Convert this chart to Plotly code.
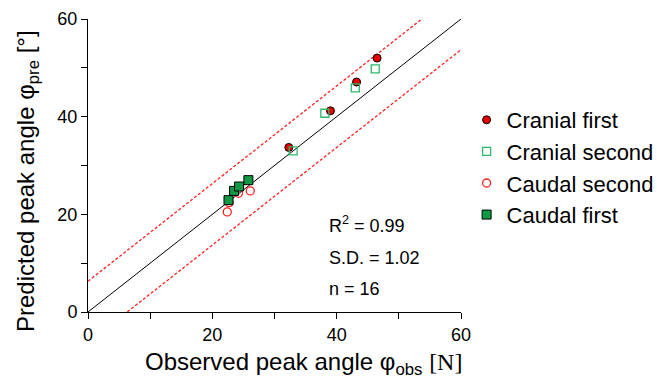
import plotly.graph_objects as go

# Data
cranial_first_x = [32.3, 39.0, 43.2, 46.5]
cranial_first_y = [33.7, 41.2, 47.1, 52.0]
cranial_second_x = [33.0, 38.1, 43.0, 46.2]
cranial_second_y = [33.0, 40.7, 45.9, 49.8]
caudal_second_x = [22.4, 22.7, 24.2, 26.1]
caudal_second_y = [20.5, 22.4, 24.3, 24.8]
caudal_first_x = [22.6, 23.5, 24.3, 25.8]
caudal_first_y = [22.9, 24.8, 25.7, 27.0]

line_x = [0, 60]
band_offset = 6.3
stats_labels = ["R<sup>2</sup> = 0.99", "S.D. = 1.02", "n = 16"]
stats_y = [18.0, 11.1, 4.7]
stats_x = 38.5

FONT = "Liberation Sans, Arial, sans-serif"
SERIF = "Liberation Serif, Times New Roman, serif"

fig = go.Figure()

# identity line and dashed band
fig.add_trace(go.Scatter(x=line_x, y=line_x, mode="lines",
                         line=dict(color="black", width=1), showlegend=False, hoverinfo="skip"))
fig.add_trace(go.Scatter(x=line_x, y=[v + band_offset for v in line_x], mode="lines",
                         line=dict(color="#ff2020", width=1.3, dash="3px,2px"), showlegend=False, hoverinfo="skip"))
fig.add_trace(go.Scatter(x=line_x, y=[v - band_offset for v in line_x], mode="lines",
                         line=dict(color="#ff2020", width=1.3, dash="3px,2px"), showlegend=False, hoverinfo="skip"))

fig.add_trace(go.Scatter(x=cranial_first_x, y=cranial_first_y, mode="markers", name="Cranial first",
                         marker=dict(symbol="circle", size=8, color="#e80000",
                                     line=dict(color="black", width=1))))
fig.add_trace(go.Scatter(x=cranial_second_x, y=cranial_second_y, mode="markers", name="Cranial second",
                         marker=dict(symbol="square-open", size=8, color="#2db86a",
                                     line=dict(width=1.3))))
fig.add_trace(go.Scatter(x=caudal_second_x, y=caudal_second_y, mode="markers", name="Caudal second",
                         marker=dict(symbol="circle-open", size=8, color="#ff2020",
                                     line=dict(width=1.3))))
fig.add_trace(go.Scatter(x=caudal_first_x, y=caudal_first_y, mode="markers", name="Caudal first",
                         marker=dict(symbol="square", size=9, color="#119a45",
                                     line=dict(color="black", width=1))))

for txt, yy in zip(stats_labels, stats_y):
    fig.add_annotation(x=stats_x, y=yy, text=txt, showarrow=False, xanchor="left", yanchor="middle",
                       font=dict(family=FONT, size=18, color="black"))

# axis titles as positioned annotations
fig.add_annotation(xref="paper", yref="paper", x=(143 - 88) / 373, y=(312 - 363) / 293,
                   xanchor="left", yanchor="middle", showarrow=False,
                   text="Observed peak angle φ<sub>obs</sub> <span style='font-family:" + SERIF + "'>[N]</span>",
                   font=dict(family=FONT, size=24, color="black"))
fig.add_annotation(xref="paper", yref="paper", x=(27 - 88) / 373, y=(312 - 181) / 293,
                   xanchor="center", yanchor="middle", showarrow=False, textangle=-90,
                   text="Predicted peak angle φ<sub>pre</sub> [°]",
                   font=dict(family=FONT, size=24, color="black"))

axis_common = dict(range=[0, 60], showgrid=False, zeroline=False, showline=True,
                   linecolor="black", linewidth=1, ticks="outside", ticklen=6,
                   tickcolor="black", tickvals=[0, 20, 40, 60], automargin=False,
                   minor=dict(tickvals=[10, 30, 50], ticks="outside", ticklen=6, tickcolor="black"),
                   tickfont=dict(family=FONT, size=18, color="black"))

fig.update_layout(
    width=657, height=379,
    margin=dict(l=88, r=196, t=19, b=67, autoexpand=False),
    paper_bgcolor="white", plot_bgcolor="white",
    xaxis=dict(**axis_common),
    yaxis=dict(**axis_common),
    legend=dict(x=1.015, y=0.727, xanchor="left", yanchor="top",
                font=dict(family=FONT, size=22, color="black"),
                itemsizing="trace", tracegroupgap=0, bgcolor="rgba(0,0,0,0)"),
    showlegend=True,
)

fig.write_html("out.html", config={"responsive": False, "displayModeBar": False},
               post_script="document.body.style.margin='0';document.body.style.overflow='hidden';")
